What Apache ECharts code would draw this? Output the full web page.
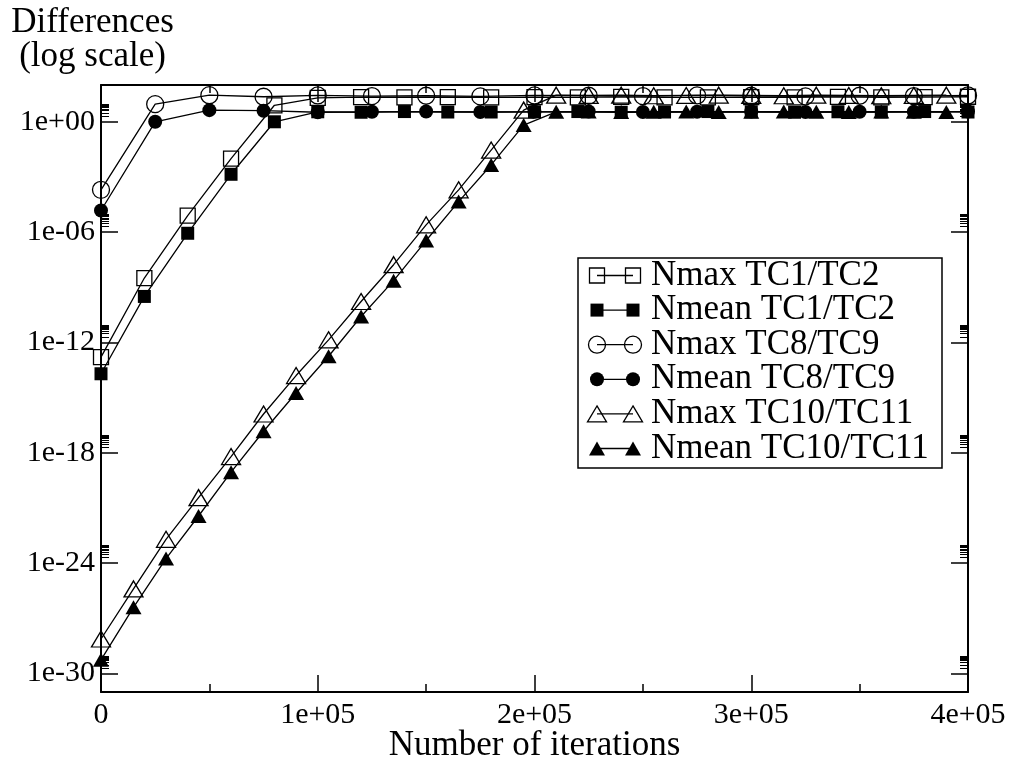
<!DOCTYPE html>
<html>
<head>
<meta charset="utf-8">
<script src="https://cdn.jsdelivr.net/npm/echarts@6/dist/echarts.min.js"></script>
<style>
  html, body { margin: 0; padding: 0; background: #fff; }
  #chart { width: 1013px; height: 763px; }
</style>
</head>
<body>
<div id="chart"></div>
<script>
// Iteration counts at which each pair of runs was sampled
const itersTC1TC2 = [0, 20000, 40000, 60000, 80000, 100000, 120000, 140000, 160000, 180000, 200000,
  220000, 240000, 260000, 280000, 300000, 320000, 340000, 360000, 380000, 400000];
const itersTC8TC9 = [0, 25000, 50000, 75000, 100000, 125000, 150000, 175000, 200000,
  225000, 250000, 275000, 300000, 325000, 350000, 375000, 400000];
const itersTC10TC11 = [0, 15000, 30000, 45000, 60000, 75000, 90000, 105000, 120000, 135000, 150000,
  165000, 180000, 195000, 210000, 225000, 240000, 255000, 270000, 285000, 300000, 315000, 330000,
  345000, 360000, 375000, 390000];

// Max and mean differences between the paired runs
const nmaxTC1TC2 = [1.6e-13, 3.2e-9, 7.9e-6, 1.0e-2, 7.9, 20, 22, 21, 22, 21, 22,
  21.5, 22.5, 21.5, 21, 22, 21.5, 22.5, 21, 22, 23];
const nmeanTC1TC2 = [2.0e-14, 3.2e-10, 8.7e-7, 1.4e-3, 1.0, 3.5, 3.3, 3.6, 3.4, 3.4, 3.5,
  3.6, 3.3, 3.4, 3.6, 3.5, 3.3, 3.5, 3.4, 3.6, 3.4];
const nmaxTC8TC9 = [2.0e-4, 9.1, 28, 23, 27, 25, 26, 24, 27, 26, 25, 27, 26, 24, 26, 25, 27];
const nmeanTC8TC9 = [1.5e-5, 1.0, 4.3, 4.0, 3.3, 3.5, 3.6, 3.4, 3.5, 3.6, 3.4, 3.5, 3.6, 3.4, 3.5, 3.5, 3.6];
const nmaxTC10TC11 = [7.6e-29, 4.0e-26, 2.0e-23, 3.7e-21, 6.3e-19, 1.3e-16, 1.6e-14, 1.4e-12, 1.7e-10,
  1.7e-8, 2.5e-6, 2.0e-4, 2.9e-2, 4.3, 28, 27, 28, 26, 27, 28, 27, 26, 28, 27, 26, 27, 28];
const nmeanTC10TC11 = [5.6e-30, 4.0e-27, 1.8e-24, 3.7e-22, 8.9e-20, 1.5e-17, 1.8e-15, 1.8e-13, 2.6e-11,
  2.3e-9, 3.5e-7, 4.6e-5, 4.5e-3, 0.66, 3.5, 3.6, 3.4, 3.5, 3.6, 3.4, 3.5, 3.6, 3.5, 3.4, 3.6, 3.5, 3.4];

// Axis tick labels
const xTickLabels = ['0', '1e+05', '2e+05', '3e+05', '4e+05'];
const yTickExponents = [-30, -24, -18, -12, -6, 0];
const yTickLabels = ['1e-30', '1e-24', '1e-18', '1e-12', '1e-06', '1e+00'];

const FONT = "'Liberation Serif', 'Times New Roman', serif";
const BLACK = '#000';

// Log-scale minor ticks (2..9 x 10^k) above each labelled decade
const yMinorTicks = [];
yTickExponents.forEach(k => {
  for (let m = 2; m <= 9; m++) yMinorTicks.push(k + Math.log10(m));
});

const seriesDefs = [
  { name: 'Nmax TC1/TC2',   x: itersTC1TC2,   v: nmaxTC1TC2,   symbol: 'rect',     size: 15,       filled: false },
  { name: 'Nmean TC1/TC2',  x: itersTC1TC2,   v: nmeanTC1TC2,  symbol: 'rect',     size: 13,       filled: true },
  { name: 'Nmax TC8/TC9',   x: itersTC8TC9,   v: nmaxTC8TC9,   symbol: 'circle',   size: 17,       filled: false },
  { name: 'Nmean TC8/TC9',  x: itersTC8TC9,   v: nmeanTC8TC9,  symbol: 'circle',   size: 14,       filled: true },
  { name: 'Nmax TC10/TC11', x: itersTC10TC11, v: nmaxTC10TC11, symbol: 'triangle', size: [19, 16], filled: false },
  { name: 'Nmean TC10/TC11',x: itersTC10TC11, v: nmeanTC10TC11,symbol: 'triangle', size: [16, 14], filled: true }
];

const series = seriesDefs.map(d => ({
  name: d.name,
  type: 'line',
  xAxisIndex: 0,
  yAxisIndex: 0,
  data: d.x.map((x, i) => [x, Math.log10(d.v[i])]),
  symbol: d.symbol,
  symbolSize: d.size,
  showAllSymbol: true,
  lineStyle: { color: BLACK, width: 1.3 },
  itemStyle: d.filled
    ? { color: BLACK, borderWidth: 0 }
    : { color: 'transparent', borderColor: BLACK, borderWidth: 1.3 },
  emphasis: { disabled: true },
  animation: false
}));

// Legend box: two symbols joined by a line, then the series name
const legendBox = { x: 578, y: 258, w: 364, h: 210, row0: 275.5, rowGap: 34.6, s1: 597, s2: 633, tx: 651 };
function legendSymbol(d, cx, cy) {
  const style = d.filled
    ? { fill: BLACK, stroke: null }
    : { fill: 'none', stroke: BLACK, lineWidth: 1.3 };
  const w = Array.isArray(d.size) ? d.size[0] : d.size;
  const h = Array.isArray(d.size) ? d.size[1] : d.size;
  if (d.symbol === 'rect') {
    return { type: 'rect', shape: { x: cx - w / 2, y: cy - h / 2, width: w, height: h }, style };
  }
  if (d.symbol === 'circle') {
    return { type: 'circle', shape: { cx, cy, r: w / 2 }, style };
  }
  return { type: 'polygon', shape: { points: [[cx, cy - h / 2], [cx + w / 2, cy + h / 2], [cx - w / 2, cy + h / 2]] }, style };
}
const legendChildren = [{
  type: 'rect',
  shape: { x: legendBox.x, y: legendBox.y, width: legendBox.w, height: legendBox.h },
  style: { fill: '#fff', stroke: BLACK, lineWidth: 1.5 }
}];
seriesDefs.forEach((d, i) => {
  const cy = legendBox.row0 + i * legendBox.rowGap;
  legendChildren.push({ type: 'line', shape: { x1: legendBox.s1, y1: cy, x2: legendBox.s2, y2: cy }, style: { stroke: BLACK, lineWidth: 1.3 } });
  legendChildren.push(legendSymbol(d, legendBox.s1, cy));
  legendChildren.push(legendSymbol(d, legendBox.s2, cy));
  legendChildren.push({
    type: 'text', x: legendBox.tx, y: cy,
    style: { text: d.name, font: '35px ' + FONT, fill: BLACK, verticalAlign: 'middle', align: 'left' }
  });
});

const xAxisBase = {
  type: 'value', min: 0, max: 400000, interval: 100000,
  axisLine: { show: true, onZero: false, lineStyle: { color: BLACK, width: 2 } },
  axisTick: { show: true, inside: true, length: 17, lineStyle: { color: BLACK, width: 1.5 } },
  minorTick: { show: true, splitNumber: 2, length: 8, lineStyle: { color: BLACK, width: 1.5 } },
  splitLine: { show: false },
  minorSplitLine: { show: false }
};
const yAxisBase = {
  type: 'value', min: -31, max: 2,
  axisLine: { show: true, onZero: false, lineStyle: { color: BLACK, width: 2 } },
  axisTick: { show: true, inside: true, length: 17, customValues: yTickExponents, lineStyle: { color: BLACK, width: 1.5 } },
  splitLine: { show: false }
};
const yMinorBase = {
  type: 'value', min: -31, max: 2,
  axisLine: { show: false, onZero: false },
  axisLabel: { show: false },
  axisTick: { show: true, inside: true, length: 8, customValues: yMinorTicks, lineStyle: { color: BLACK, width: 1 } },
  splitLine: { show: false }
};

const option = {
  backgroundColor: '#fff',
  animation: false,
  grid: { left: 101, right: 45, top: 85, bottom: 71, show: false, containLabel: false, outerBoundsMode: 'none' },
  xAxis: [
    Object.assign({}, xAxisBase, {
      position: 'bottom',
      name: 'Number of iterations',
      nameLocation: 'middle',
      nameGap: 36,
      nameMoveOverlap: false,
      nameTextStyle: { fontFamily: FONT, fontSize: 35, color: BLACK },
      axisLabel: {
        show: true, margin: 8, fontFamily: FONT, fontSize: 30, color: BLACK,
        formatter: v => xTickLabels[Math.round(v / 100000)]
      }
    }),
    Object.assign({}, xAxisBase, { position: 'top', axisLabel: { show: false } })
  ],
  yAxis: [
    Object.assign({}, yAxisBase, {
      position: 'left',
      axisLabel: {
        show: true, margin: 6, fontFamily: FONT, fontSize: 30, color: BLACK,
        customValues: yTickExponents,
        formatter: v => yTickLabels[yTickExponents.indexOf(Math.round(v))]
      }
    }),
    Object.assign({}, yAxisBase, { position: 'right', axisLabel: { show: false } }),
    Object.assign({}, yMinorBase, { position: 'left' }),
    Object.assign({}, yMinorBase, { position: 'right' })
  ],
  series,
  graphic: [
    {
      type: 'text', x: 92.5, y: 23,
      style: { text: 'Differences', font: '35px ' + FONT, fill: BLACK, align: 'center', verticalAlign: 'middle' }
    },
    {
      type: 'text', x: 92.5, y: 57,
      style: { text: '(log scale)', font: '35px ' + FONT, fill: BLACK, align: 'center', verticalAlign: 'middle' }
    },
    { type: 'group', children: legendChildren, z: 100 }
  ]
};

const chart = echarts.init(document.getElementById('chart'), null, { renderer: 'canvas' });
chart.setOption(option);
</script>
</body>
</html>
